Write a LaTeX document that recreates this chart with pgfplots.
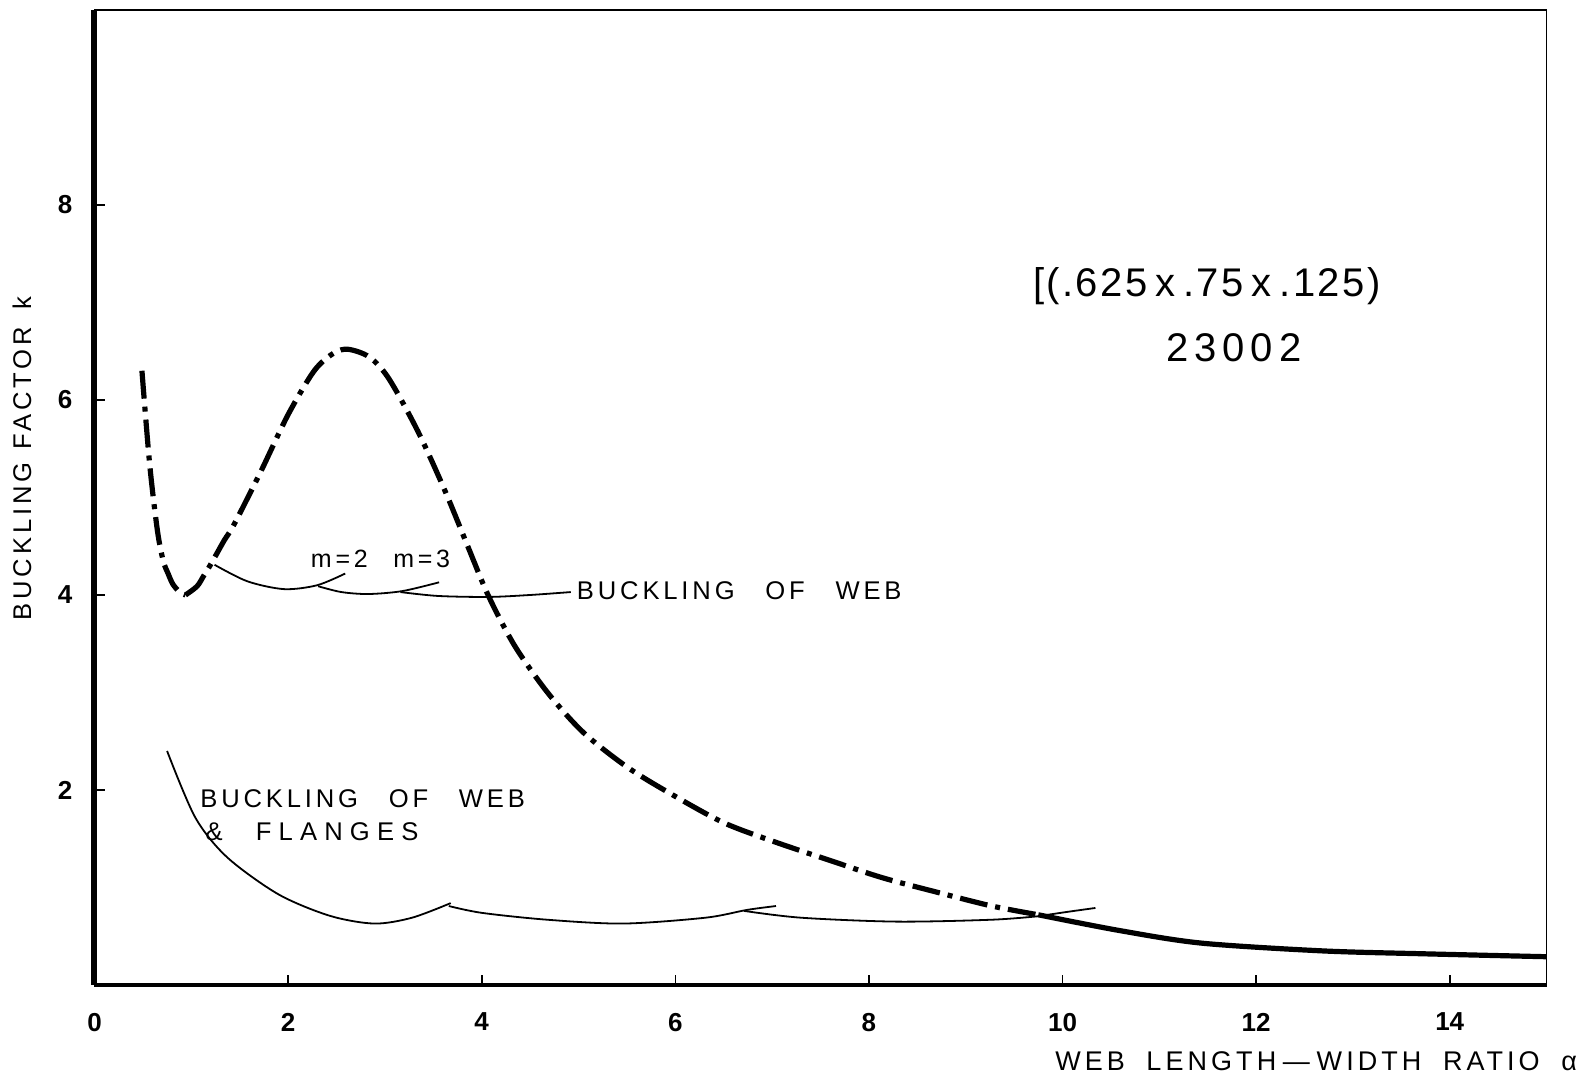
\documentclass[border=0pt]{standalone}
\usepackage{fontspec}
\setmainfont{Liberation Sans}
\newfontfamily\lettering[LetterSpace=15]{Liberation Sans}
\newfontfamily\widelettering[LetterSpace=28]{Liberation Sans}
\newfontfamily\biglettering[LetterSpace=6]{Liberation Sans}
\usepackage{pgfplots}
\pgfplotsset{compat=1.18}

\begin{document}
\begin{tikzpicture}
\useasboundingbox (-47.25pt,-47pt) rectangle (749.25pt,492.5pt);
\begin{axis}[
  at={(0,0)}, anchor=south west,
  scale only axis, width=726pt, height=487.5pt,
  xmin=0, xmax=15, ymin=0, ymax=10,
  xtick={0,2,...,14}, ytick={2,4,6,8},
  xtick pos=bottom, ytick pos=left,
  tick align=inside, major tick length=5pt,
  tick style={black, line width=0.8pt},
  axis line style={line width=0.8pt},
  tick label style={font=\fontsize{13}{15}\selectfont\bfseries},
  xticklabel style={yshift=-10.5pt},
  yticklabel style={xshift=-7.5pt},
  /pgf/number format/assume math mode=true,
  clip=false,
]
% heavier left and bottom frame lines
\draw[line width=3pt] (rel axis cs:0,0) -- (rel axis cs:0,1);
\draw[line width=2pt] (rel axis cs:0,0) -- (rel axis cs:1,0);

% envelope, dash-dot: descending branch to the first minimum
\addplot[line width=2.6pt, smooth, dash pattern=on 14pt off 4pt on 2.5pt off 4pt]
 coordinates {(0.49,6.30) (0.57,5.34) (0.65,4.66) (0.71,4.35) (0.76,4.22) (0.81,4.11) (0.88,4.03) (0.94,4.00)};
% envelope, dash-dot: hump and decay
\addplot[line width=2.6pt, smooth, dash pattern=on 14pt off 4pt on 2.5pt off 4pt]
 coordinates {(0.94,4.00) (1.06,4.09) (1.13,4.20) (1.21,4.33) (1.34,4.56) (1.44,4.72)
  (1.72,5.27) (2.00,5.85) (2.27,6.30) (2.47,6.48) (2.62,6.52) (2.84,6.44) (3.04,6.22)
  (3.34,5.68) (3.62,5.07) (3.86,4.49) (4.07,3.99) (4.34,3.48) (4.68,3.00) (5.05,2.59)
  (5.51,2.23) (5.99,1.94) (6.51,1.66) (7.05,1.46) (7.62,1.27) (8.14,1.10) (8.71,0.95)
  (9.27,0.81) (9.75,0.72)};
% envelope, solid tail
\addplot[line width=2.6pt, smooth]
 coordinates {(9.75,0.72) (10.58,0.56) (11.43,0.43) (12.68,0.35) (13.73,0.32) (15.0,0.29)};

% buckling of web, m = 1, 2, 3
\addplot[line width=0.9pt, smooth]
 coordinates {(1.24,4.31) (1.58,4.14) (1.96,4.06) (2.30,4.10) (2.59,4.22)};
\addplot[line width=0.9pt, smooth]
 coordinates {(2.31,4.09) (2.55,4.03) (2.83,4.01) (3.18,4.04) (3.56,4.13)};
\addplot[line width=0.9pt, smooth]
 coordinates {(3.16,4.03) (3.55,3.99) (4.07,3.98) (4.50,4.00) (4.92,4.03)};

% buckling of web and flanges
\addplot[line width=0.9pt, smooth]
 coordinates {(0.75,2.40) (1.04,1.72) (1.37,1.31) (1.90,0.93) (2.43,0.71) (2.89,0.63)
  (3.28,0.69) (3.68,0.84)};
\addplot[line width=0.9pt, smooth]
 coordinates {(3.66,0.81) (4.00,0.74) (4.67,0.67) (5.46,0.63) (6.31,0.69) (6.74,0.77) (7.04,0.81)};
\addplot[line width=0.9pt, smooth]
 coordinates {(6.71,0.76) (7.30,0.69) (8.29,0.65) (9.28,0.67) (9.80,0.71)};
\addplot[line width=0.9pt, smooth]
 coordinates {(9.78,0.71) (10.05,0.75) (10.34,0.79)};

% labels
\node[rotate=90, font=\lettering\fontsize{12.8}{15}\selectfont] at (axis cs:-0.75,5.4)
 {BUCKLING\hspace{0.5em}FACTOR\hspace{0.7em}k};
\node[font=\lettering\fontsize{13.5}{16}\selectfont] at (axis cs:12.62,-0.78)
 {WEB\hspace{0.8em}LENGTH\hspace{0.25em}—\hspace{0.25em}WIDTH\hspace{0.8em}RATIO\hspace{0.8em}α};
\node[font=\biglettering\fontsize{20}{24}\selectfont] at (axis cs:11.49,7.17)
 {[(.625\hspace{0.2em}x\hspace{0.2em}.75\hspace{0.2em}x\hspace{0.2em}.125)};
\node[font=\lettering\fontsize{20}{24}\selectfont] at (axis cs:11.77,6.54) {23002};
\node[font=\lettering\fontsize{12.5}{14}\selectfont] at (axis cs:2.53,4.37) {m=2};
\node[font=\lettering\fontsize{12.5}{14}\selectfont] at (axis cs:3.38,4.37) {m=3};
\node[anchor=west, inner sep=0pt, font=\lettering\fontsize{12.8}{15}\selectfont] at (axis cs:4.98,4.04)
 {BUCKLING\hspace{1.2em}OF\hspace{1.2em}WEB};
\node[anchor=west, inner sep=0pt, align=left, font=\lettering\fontsize{12.8}{16.3}\selectfont] at (axis cs:1.09,1.74)
 {BUCKLING\hspace{1.2em}OF\hspace{1.2em}WEB\\\hspace{0.2em}\&\hspace{1.3em}{\widelettering FLANGES}};
\end{axis}
\end{tikzpicture}
\end{document}
